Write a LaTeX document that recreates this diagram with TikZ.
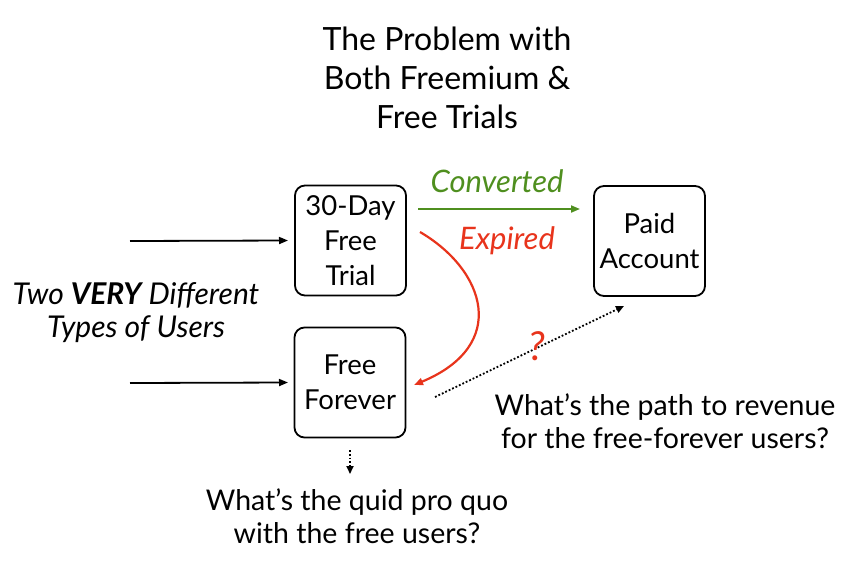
\documentclass[tikz,border=0pt]{standalone}
\usepackage{fontspec}
\setmainfont{Lato}
\usetikzlibrary{arrows.meta}
\definecolor{conv}{HTML}{4F8F1F}
\definecolor{expd}{HTML}{E8341C}
\tikzset{
  box/.style={draw, rounded corners=10pt, line width=1.8pt, minimum width=111pt, minimum height=110pt, align=center, font=\fontsize{27.5}{35}\selectfont, inner sep=0pt},
  txt/.style={align=center, font=\fontsize{28.5}{33}\selectfont},
  arr/.style={-{Triangle[length=9pt,width=7pt]}, line width=1.8pt},
  dotarr/.style={-{Triangle[length=8pt,width=7pt]}, line width=1.8pt, dotted},
  hand/.style={font=\fontsize{31}{31}\selectfont\itshape}
}
\begin{document}
\begin{tikzpicture}[x=1pt,y=-1pt]
\useasboundingbox (0,0) rectangle (858,560);
\node[txt, font=\fontsize{32}{39}\selectfont] (title) at (447,78) {The Problem with\\Both Freemium \&\\Free Trials};
\node[box] (trial) at (350.5,240.5) {30-Day\\Free\\Trial};
\node[box] (free) at (350,382.5) {Free\\Forever};
\node[box] (paid) at (649.5,241) {Paid\\Account};
\coordinate (s1) at (130,241);
\coordinate (s2) at (130,383);
\draw[arr] (s1) -- (trial.west -| 288,0);
\draw[arr] (s2) -- (free.west -| 288,0);
\coordinate (c1) at (418,209);
\coordinate (c2) at (580,209);
\draw[arr, conv] (c1) -- (c2);
\node[hand, text=conv] (convlbl) at (497,181) {Converted};
\coordinate (e1) at (420,232);
\coordinate (e2) at (414,385);
\draw[arr, expd, line width=2.2pt] (e1) .. controls (485,270) and (510,345) .. (e2);
\node[hand, text=expd] (explbl) at (507,241) {Expired};
\coordinate (d1) at (435,397);
\coordinate (d2) at (624,306);
\draw[dotarr] (d1) -- (d2);
\node[hand, text=expd, font=\fontsize{40}{40}\selectfont\itshape] (q) at (537,346) {?};
\node[txt] (rev) at (665,421) {What’s the path to revenue\\for the free-forever users?};
\node[txt, font=\fontsize{30}{33}\selectfont\itshape] (users) at (136,313) {Two \textbf{VERY} Different\\Types of Users};
\coordinate (q1) at (350,450);
\coordinate (q2) at (350,474);
\draw[dotarr] (q1) -- (q2);
\node[txt] (quid) at (357,516) {What’s the quid pro quo\\with the free users?};
\end{tikzpicture}
\end{document}
